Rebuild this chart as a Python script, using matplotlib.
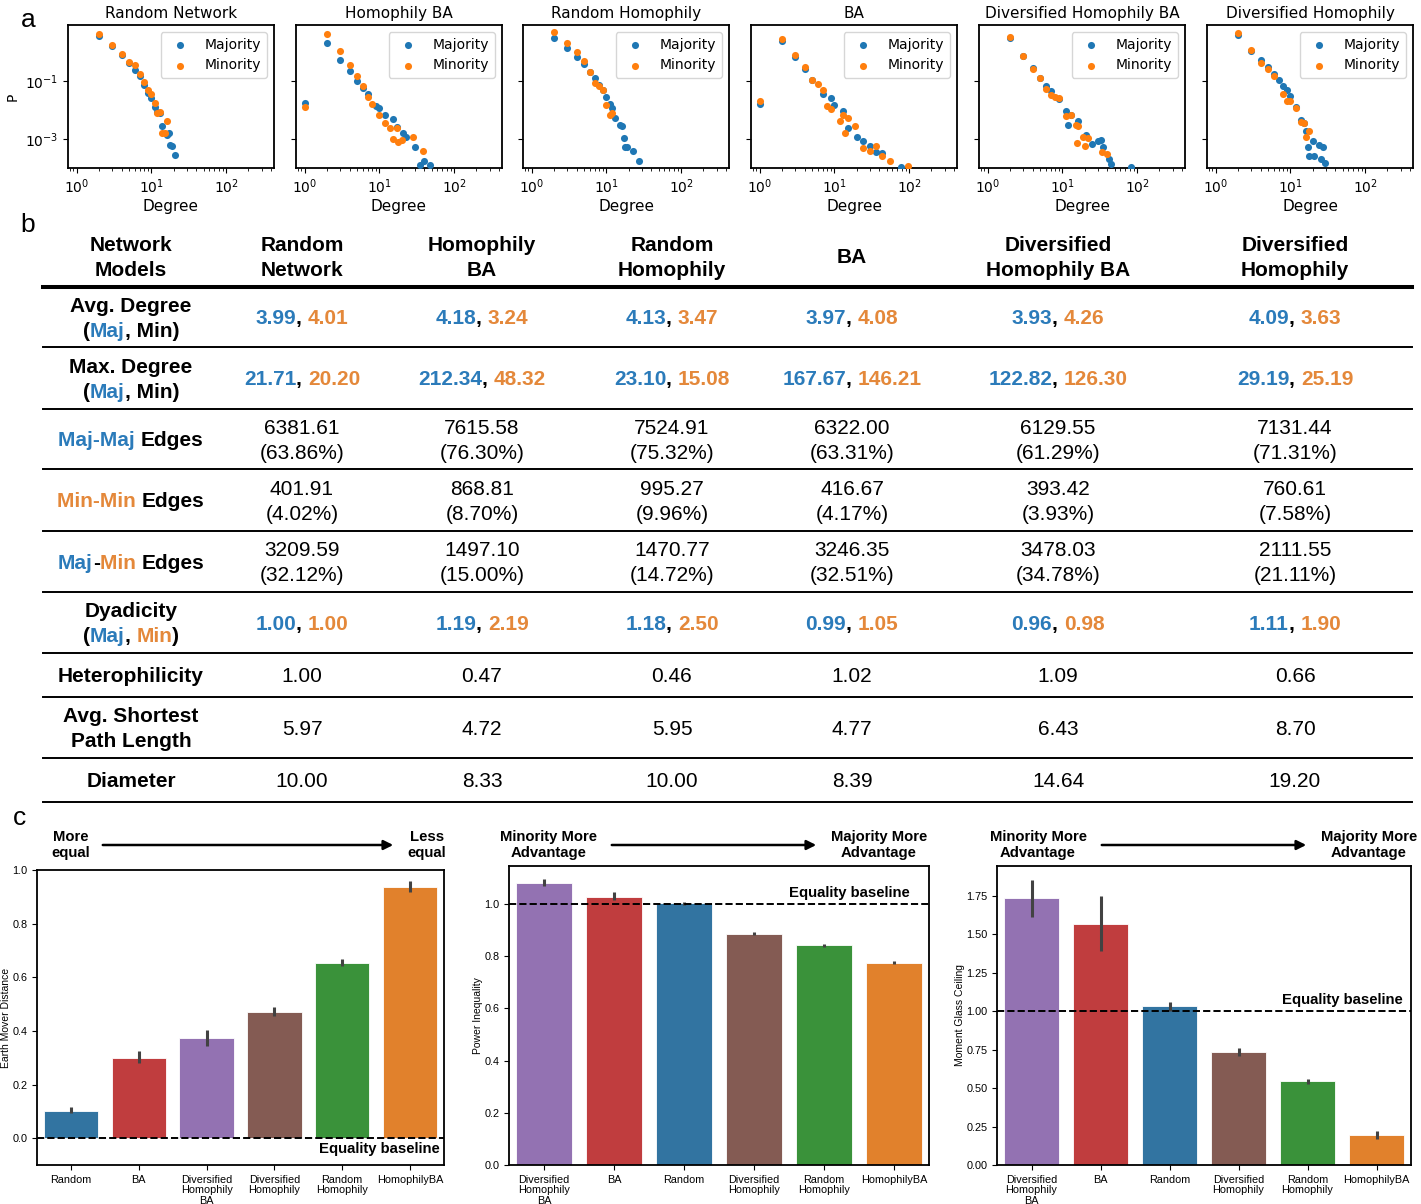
import matplotlib
matplotlib.use('Agg')
import matplotlib.pyplot as plt
from matplotlib.lines import Line2D
from matplotlib.ticker import NullLocator, FixedLocator

W, H = 1421, 1204
TF = 'Liberation Sans'
BLUE = '#2b7bba'
ORANGE = '#e4883a'
K = 'black'

# ---------------- panel a data (degree, P) ----------------
titles_a = ['Random Network', 'Homophily BA', 'Random Homophily', 'BA',
            'Diversified Homophily BA', 'Diversified Homophily']

rn_maj_deg = [2, 3, 4, 5, 6, 7, 8, 9, 10, 11, 12, 13, 14, 16, 17, 18, 19, 21]
rn_maj_p = [3.5, 1.62, 0.79, 0.43, 0.24, 0.148, 0.072, 0.037, 0.025, 0.013, 0.0087, 0.0078,
            0.0027, 0.00138, 0.0016, 0.00062, 0.00058, 0.00027]
rn_min_deg = [2, 3, 4, 5, 6, 7, 8, 9, 10, 11, 12, 13, 14, 15, 16]
rn_min_p = [4.1, 1.74, 0.85, 0.46, 0.355, 0.174, 0.095, 0.049, 0.035, 0.017, 0.0078, 0.0087,
            0.00166, 0.0016, 0.0043]

hba_maj_deg = [1, 2, 3, 4, 5, 6, 7, 9, 10, 12, 15, 17, 21, 23, 30, 35, 40, 47]
hba_maj_p = [0.018, 2.1, 0.52, 0.22, 0.1, 0.056, 0.035, 0.014, 0.0115, 0.0068, 0.0048, 0.0025,
             0.00166, 0.00115, 0.00055, 0.000126, 0.00017, 0.000126]
hba_min_deg = [1, 2, 3, 4, 5, 6, 7, 8, 10, 12, 14, 15, 17, 18, 20, 28, 38]
hba_min_p = [0.013, 4.0, 1.05, 0.355, 0.15, 0.069, 0.029, 0.016, 0.0068, 0.0036, 0.0023, 0.00098,
             0.0023, 0.00081, 0.00093, 0.00115, 0.0004]

rh_maj_deg = [2, 3, 4, 5, 6, 7, 8, 9, 10, 11, 12, 13, 15, 16, 17, 18, 19, 23, 27]
rh_maj_p = [3.1, 1.35, 0.66, 0.39, 0.2, 0.129, 0.072, 0.049, 0.029, 0.016, 0.0115, 0.0055,
            0.003, 0.0027, 0.00112, 0.00055, 0.00051, 0.0004, 0.00017]
rh_min_deg = [2, 3, 4, 5, 6, 7, 8, 9, 10, 11, 12]
rh_min_p = [5.0, 2.0, 0.98, 0.5, 0.21, 0.083, 0.068, 0.047, 0.015, 0.0068, 0.0078]

ba_maj_deg = [1, 2, 3, 4, 5, 7, 9, 10, 13, 15, 20, 24, 30, 36, 43, 77]
ba_maj_p = [0.016, 2.45, 0.69, 0.257, 0.107, 0.035, 0.025, 0.015, 0.0093, 0.0023, 0.0012,
            0.00085, 0.00059, 0.00036, 0.00032, 0.000105]
ba_min_deg = [1, 2, 3, 4, 5, 6, 7, 8, 9, 12, 13, 15, 14, 19, 24, 30, 36, 44, 56, 97]
ba_min_p = [0.021, 2.75, 0.79, 0.31, 0.107, 0.078, 0.049, 0.014, 0.0105, 0.0043, 0.0068, 0.0051,
            0.00166, 0.0028, 0.00048, 0.00039, 0.00059, 0.00026, 0.00018, 0.000117]

dhba_maj_deg = [2, 3, 4, 5, 6, 7, 9, 11, 12, 13, 16, 21, 25, 30, 33, 35, 42, 45, 82]
dhba_maj_p = [2.95, 0.72, 0.275, 0.123, 0.068, 0.046, 0.023, 0.0095, 0.003, 0.0068, 0.0043,
              0.00138, 0.00068, 0.00085, 0.00093, 0.00055, 0.00021, 0.000135, 0.000105]
dhba_min_deg = [2, 3, 4, 5, 6, 7, 8, 9, 11, 13, 15, 16, 19, 15.5, 22, 20, 34, 39]
dhba_min_p = [3.2, 0.72, 0.257, 0.129, 0.051, 0.033, 0.029, 0.025, 0.0062, 0.0068, 0.003, 0.0027,
              0.0012, 0.0007, 0.00105, 0.00059, 0.00036, 0.0003]

dh_maj_deg = [2, 3, 4, 5, 6, 7, 8, 9, 10, 12, 14, 15, 16, 17, 18, 20, 21, 24, 26, 27, 29]
dh_maj_p = [3.9, 1.07, 0.52, 0.31, 0.174, 0.107, 0.068, 0.049, 0.031, 0.013, 0.0046, 0.0036,
            0.0019, 0.00055, 0.00025, 0.00087, 0.00025, 0.00062, 0.0002, 0.00055, 0.00015]
dh_min_deg = [2, 3, 4, 5, 6, 8, 9, 10, 12, 14, 15, 18, 16]
dh_min_p = [4.4, 1.17, 0.43, 0.25, 0.148, 0.035, 0.021, 0.021, 0.0115, 0.004, 0.0035, 0.0019,
            0.00115]

series_a = [(rn_maj_deg, rn_maj_p, rn_min_deg, rn_min_p),
            (hba_maj_deg, hba_maj_p, hba_min_deg, hba_min_p),
            (rh_maj_deg, rh_maj_p, rh_min_deg, rh_min_p),
            (ba_maj_deg, ba_maj_p, ba_min_deg, ba_min_p),
            (dhba_maj_deg, dhba_maj_p, dhba_min_deg, dhba_min_p),
            (dh_maj_deg, dh_maj_p, dh_min_deg, dh_min_p)]

# ---------------- panel b data ----------------
models = ['Random\nNetwork', 'Homophily\nBA', 'Random\nHomophily', 'BA',
          'Diversified\nHomophily BA', 'Diversified\nHomophily']
avg_deg_maj = [3.99, 4.18, 4.13, 3.97, 3.93, 4.09]
avg_deg_min = [4.01, 3.24, 3.47, 4.08, 4.26, 3.63]
max_deg_maj = [21.71, 212.34, 23.10, 167.67, 122.82, 29.19]
max_deg_min = [20.20, 48.32, 15.08, 146.21, 126.30, 25.19]
majmaj = [6381.61, 7615.58, 7524.91, 6322.00, 6129.55, 7131.44]
majmaj_pct = [63.86, 76.30, 75.32, 63.31, 61.29, 71.31]
minmin = [401.91, 868.81, 995.27, 416.67, 393.42, 760.61]
minmin_pct = [4.02, 8.70, 9.96, 4.17, 3.93, 7.58]
majmin = [3209.59, 1497.10, 1470.77, 3246.35, 3478.03, 2111.55]
majmin_pct = [32.12, 15.00, 14.72, 32.51, 34.78, 21.11]
dyad_maj = [1.00, 1.19, 1.18, 0.99, 0.96, 1.11]
dyad_min = [1.00, 2.19, 2.50, 1.05, 0.98, 1.90]
hetero = [1.00, 0.47, 0.46, 1.02, 1.09, 0.66]
aspl = [5.97, 4.72, 5.95, 4.77, 6.43, 8.70]
diam = [10.00, 8.33, 10.00, 8.39, 14.64, 19.20]

# ---------------- panel c data ----------------
model_color = {'Random': '#3274a1', 'BA': '#c03d3e', 'DHBA': '#9372b2',
               'DH': '#845b53', 'RH': '#3a923a', 'HBA': '#e1812c'}
model_label = {'Random': 'Random', 'BA': 'BA', 'DHBA': 'Diversified\nHomophily\nBA',
               'DH': 'Diversified\nHomophily', 'RH': 'Random\nHomophily', 'HBA': 'HomophilyBA'}

emd_order = ['Random', 'BA', 'DHBA', 'DH', 'RH', 'HBA']
emd_val = [0.103, 0.300, 0.372, 0.472, 0.655, 0.937]
emd_lo = [0.093, 0.280, 0.342, 0.455, 0.643, 0.918]
emd_hi = [0.115, 0.325, 0.405, 0.490, 0.670, 0.960]

pi_order = ['DHBA', 'BA', 'Random', 'DH', 'RH', 'HBA']
pi_val = [1.082, 1.028, 1.003, 0.886, 0.842, 0.776]
pi_lo = [1.070, 1.015, 0.998, 0.880, 0.837, 0.770]
pi_hi = [1.095, 1.045, 1.008, 0.892, 0.847, 0.783]

mgc_order = ['DHBA', 'BA', 'Random', 'DH', 'RH', 'HBA']
mgc_val = [1.735, 1.567, 1.033, 0.733, 0.545, 0.195]
mgc_lo = [1.610, 1.395, 1.000, 0.710, 0.530, 0.170]
mgc_hi = [1.855, 1.750, 1.060, 0.760, 0.560, 0.220]

fig = plt.figure(figsize=(W / 100, H / 100), dpi=100)
renderer = fig.canvas.get_renderer()


def fbox(l, t, r, b):
    return [l / W, 1 - b / H, (r - l) / W, (b - t) / H]


def ftext(x, y, s, **kw):
    return fig.text(x / W, 1 - y / H, s, **kw)


# ---------------- a: degree distributions ----------------
lefts = [68, 296, 523, 751, 979, 1207]
for i, (l, title, (mjd, mjp, mnd, mnp)) in enumerate(zip(lefts, titles_a, series_a)):
    ax = fig.add_axes(fbox(l, 25, l + 206, 168))
    ax.scatter(mjd, mjp, s=26, color='#1f77b4', label='Majority', zorder=3, linewidths=0)
    ax.scatter(mnd, mnp, s=26, color='#ff7f0e', label='Minority', zorder=3, linewidths=0)
    ax.set_xscale('log')
    ax.set_yscale('log')
    ax.set_xlim(0.76, 440)
    ax.set_ylim(1e-4, 8.5)
    ax.yaxis.set_major_locator(FixedLocator([1e-3, 1e-1]))
    ax.yaxis.set_minor_locator(NullLocator())
    ax.tick_params(labelsize=10)
    for sp in ax.spines.values():
        sp.set_linewidth(1.3)
    if i == 0:
        ax.set_ylabel('P', fontsize=10)
    else:
        ax.set_yticklabels([])
    ax.set_xlabel('Degree', fontsize=11, labelpad=2)
    ax.set_title(title, fontsize=11, pad=5)
    ax.legend(loc='upper right', fontsize=10)

# ---------------- b: table ----------------
FS = 15


def tw(s, weight):
    t = fig.text(0, 0, s, fontsize=FS, family=TF, weight=weight)
    w = t.get_window_extent(renderer).width
    t.remove()
    return w


def cell(cx, cy, lines, weight='bold'):
    n = len(lines)
    wx = tw('x', weight)
    for i, pieces in enumerate(lines):
        base = cy + (i - (n - 1) / 2) * 25 + 7.4
        full = ''.join(p[0] for p in pieces)
        x0 = cx - tw(full, weight) / 2
        pre = ''
        for s, c in pieces:
            off = tw(pre + 'x', weight) - wx if pre else 0
            ftext(x0 + off, base, s, color=c, fontsize=FS, family=TF, weight=weight,
                  ha='left', va='baseline')
            pre += s


col_x = [131, 302, 482, 672, 852, 1058, 1295]
row_y = [317, 378, 439, 500, 561.5, 622.5, 675, 727.5, 780]

cell(col_x[0], 256, [[('Network', K)], [('Models', K)]])
for j, m in enumerate(models):
    cell(col_x[j + 1], 256, [[(ln, K)] for ln in m.split('\n')])

row_labels = [
    [[('Avg. Degree', K)], [('(', K), ('Maj', BLUE), (', Min)', K)]],
    [[('Max. Degree', K)], [('(', K), ('Maj', BLUE), (', Min)', K)]],
    [[('Maj-Maj ', BLUE), ('Edges', K)]],
    [[('Min-Min ', ORANGE), ('Edges', K)]],
    [[('Maj', BLUE), ('-', K), ('Min ', ORANGE), ('Edges', K)]],
    [[('Dyadicity', K)], [('(', K), ('Maj', BLUE), (', ', K), ('Min', ORANGE), (')', K)]],
    [[('Heterophilicity', K)]],
    [[('Avg. Shortest', K)], [('Path Length', K)]],
    [[('Diameter', K)]],
]
for r, lab in enumerate(row_labels):
    cell(col_x[0], row_y[r], lab)

for j in range(6):
    cx = col_x[j + 1]
    cell(cx, row_y[0], [[(f'{avg_deg_maj[j]:.2f}', BLUE), (', ', K), (f'{avg_deg_min[j]:.2f}', ORANGE)]])
    cell(cx, row_y[1], [[(f'{max_deg_maj[j]:.2f}', BLUE), (', ', K), (f'{max_deg_min[j]:.2f}', ORANGE)]])
    cell(cx, row_y[2], [[(f'{majmaj[j]:.2f}', K)], [(f'({majmaj_pct[j]:.2f}%)', K)]], 'normal')
    cell(cx, row_y[3], [[(f'{minmin[j]:.2f}', K)], [(f'({minmin_pct[j]:.2f}%)', K)]], 'normal')
    cell(cx, row_y[4], [[(f'{majmin[j]:.2f}', K)], [(f'({majmin_pct[j]:.2f}%)', K)]], 'normal')
    cell(cx, row_y[5], [[(f'{dyad_maj[j]:.2f}', BLUE), (', ', K), (f'{dyad_min[j]:.2f}', ORANGE)]])
    cell(cx, row_y[6], [[(f'{hetero[j]:.2f}', K)]], 'normal')
    cell(cx, row_y[7], [[(f'{aspl[j]:.2f}', K)]], 'normal')
    cell(cx, row_y[8], [[(f'{diam[j]:.2f}', K)]], 'normal')

fig.add_artist(Line2D([43 / W, 1412 / W], [1 - 287 / H] * 2, transform=fig.transFigure,
                      color='k', lw=2.9))
for y in [347, 409, 469, 531, 592, 653, 697, 758, 802]:
    fig.add_artist(Line2D([43 / W, 1412 / W], [1 - y / H] * 2, transform=fig.transFigure,
                          color='k', lw=1.4))

# ---------------- c: bar charts ----------------
panels_c = [
    (fbox(37, 870, 444, 1165), emd_order, emd_val, emd_lo, emd_hi, (-0.1, 1.0),
     [0.0, 0.2, 0.4, 0.6, 0.8, 1.0], '{:.1f}', 'Earth Mover Distance', 0.0,
     (440, 1149), ('More\nequal', 71), ('Less\nequal', 427), (100, 396)),
    (fbox(509, 866, 929, 1165), pi_order, pi_val, pi_lo, pi_hi, (0, 1.146),
     [0.0, 0.2, 0.4, 0.6, 0.8, 1.0], '{:.1f}', 'Power Inequality', 1.0,
     (910, 893), ('Minority More\nAdvantage', 549), ('Majority More\nAdvantage', 879), (609, 819)),
    (fbox(997, 866, 1411, 1165), mgc_order, mgc_val, mgc_lo, mgc_hi, (0, 1.945),
     [0.0, 0.25, 0.5, 0.75, 1.0, 1.25, 1.5, 1.75], '{:.2f}', 'Moment Glass Ceiling', 1.0,
     (1403, 1000), ('Minority More\nAdvantage', 1038), ('Majority More\nAdvantage', 1369), (1099, 1309)),
]

for (box, order, vals, lo, hi, ylim, yt, fmt, ylab, base, eq, lt, rt, arr) in panels_c:
    ax = fig.add_axes(box)
    xs = list(range(len(order)))
    ax.bar(xs, vals, width=0.8, color=[model_color[m] for m in order],
           edgecolor='white', linewidth=0.6, zorder=2)
    ax.vlines(xs, lo, hi, color='#424242', lw=2.2, zorder=3)
    ax.axhline(base, color='k', ls='--', lw=1.4, zorder=4)
    ax.set_xlim(-0.5, len(order) - 0.5)
    ax.set_ylim(*ylim)
    ax.set_xticks(xs)
    ax.set_xticklabels([model_label[m] for m in order], fontsize=7.8, family=TF, linespacing=1.05)
    ax.set_yticks(yt)
    ax.set_yticklabels([fmt.format(v) for v in yt], fontsize=7.8, family=TF)
    ax.set_ylabel(ylab, fontsize=7.5, family=TF, labelpad=1)
    for sp in ax.spines.values():
        sp.set_linewidth(1.3)
    ftext(eq[0], eq[1], 'Equality baseline', fontsize=10.7, family=TF, weight='bold',
          ha='right', va='center')
    ftext(lt[1], 845, lt[0], fontsize=10.7, family=TF, weight='bold', ha='center',
          va='center', linespacing=1.2)
    ftext(rt[1], 845, rt[0], fontsize=10.7, family=TF, weight='bold', ha='center',
          va='center', linespacing=1.2)
    ax.annotate('', xy=(arr[1] / W, 1 - 845 / H), xytext=(arr[0] / W, 1 - 845 / H),
                xycoords='figure fraction', textcoords='figure fraction',
                annotation_clip=False,
                arrowprops=dict(arrowstyle='-|>', color='black', lw=1.8, mutation_scale=14))

# section letters
ftext(28, 20, 'a', fontsize=19, family=TF, ha='center', va='center')
ftext(28, 225, 'b', fontsize=19, family=TF, ha='center', va='center')
ftext(20, 818, 'c', fontsize=19, family=TF, ha='center', va='center')

fig.savefig('out.png', dpi=100)
